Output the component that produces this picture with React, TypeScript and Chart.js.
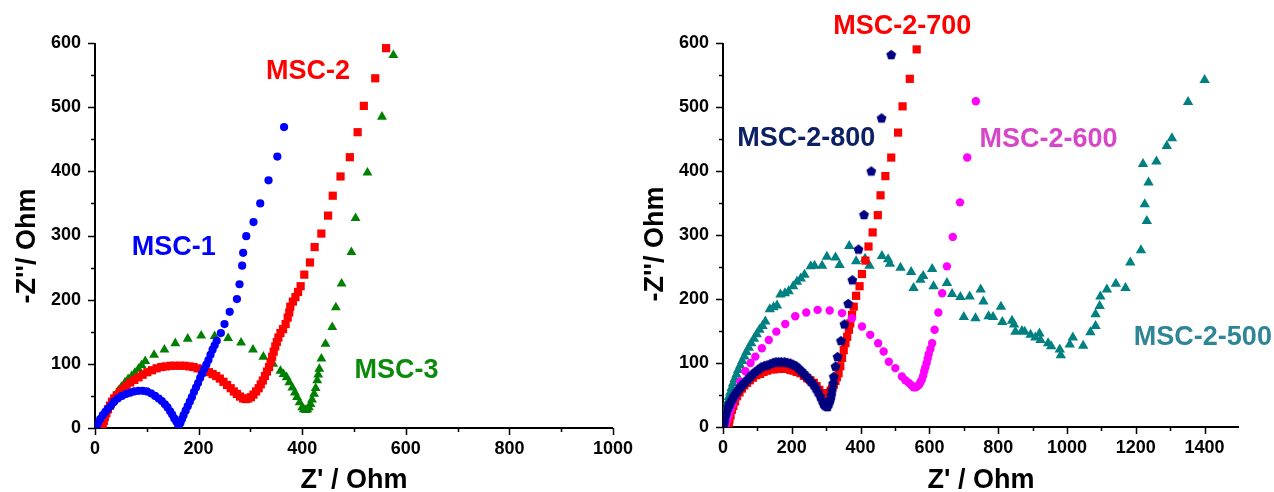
import { useEffect, useRef } from 'react';
import { Chart, registerables } from 'chart.js';

Chart.register(...registerables);

// ---------------- LEFT PANEL DATA ----------------
const MSC1_X = [3, 6, 10, 15, 20, 25, 31, 37, 44, 52, 60, 68, 76, 84, 92, 100, 108, 116, 123, 129, 135, 140, 145, 149, 153, 157, 160, 162, 165, 168, 171, 175, 179, 183, 187, 191, 195, 199, 203, 207, 211, 215, 219, 223, 227, 231, 235, 243, 250, 260, 274, 279, 284, 286, 292, 306, 319, 335, 352, 365];
const MSC1_Y = [3, 8, 14, 20, 25, 30, 35, 41, 46, 50, 53, 55, 57, 58, 58, 57, 54, 50, 46, 42, 37, 32, 26, 21, 15, 10, 6, 4, 8, 14, 20, 27, 34, 41, 48, 56, 63, 70, 78, 85, 92, 99, 106, 114, 122, 129, 136, 148, 162, 181, 201, 224, 253, 273, 299, 321, 350, 386, 423, 469];

const MSC2_X = [13, 15, 17, 19, 22, 25, 29, 33, 37, 42, 48, 54, 61, 68, 76, 84, 92, 101, 110, 119, 128, 137, 146, 155, 164, 173, 182, 190, 198, 206, 213, 220, 227, 234, 241, 248, 255, 262, 268, 274, 280, 286, 291, 296, 301, 306, 311, 316, 320, 324, 328, 332, 336, 339, 342, 345, 348, 351, 354, 358, 363, 368, 372, 375, 377, 382, 387, 392, 397, 404, 415, 424, 437, 450, 459, 474, 492, 507, 519, 541, 562];
const MSC2_Y = [0, 5, 11, 17, 23, 29, 35, 41, 46, 51, 56, 61, 66, 71, 75, 79, 83, 87, 90, 93, 95, 96, 97, 97, 97, 97, 96, 95, 93, 91, 89, 87, 84, 81, 77, 72, 67, 62, 57, 53, 49, 46, 45, 46, 48, 52, 57, 62, 68, 74, 81, 88, 95, 103, 111, 119, 127, 134, 141, 148, 154, 162, 172, 180, 189, 197, 204, 212, 221, 239, 258, 282, 303, 331, 362, 392, 422, 461, 502, 545, 592];

const MSC3_X = [5, 6, 8, 10, 13, 16, 19, 23, 27, 32, 38, 45, 51, 58, 64, 71, 77, 84, 90, 97, 114, 134, 155, 179, 205, 231, 257, 282, 305, 325, 344, 358, 364, 370, 375, 381, 386, 390, 395, 400, 403, 407, 410, 413, 416, 419, 423, 426, 429, 431, 433, 437, 445, 458, 465, 476, 495, 503, 526, 554, 576];
const MSC3_Y = [0, 3, 6, 10, 15, 19, 22, 28, 33, 40, 49, 58, 64, 71, 76, 81, 86, 92, 98, 104, 114, 122, 132, 139, 144, 143, 140, 133, 122, 111, 100, 89, 84, 79, 71, 63, 55, 48, 40, 32, 29, 28, 29, 32, 37, 44, 53, 62, 74, 83, 92, 108, 131, 157, 188, 225, 274, 327, 398, 485, 581];

// ---------------- RIGHT PANEL DATA ----------------
const M800_X = [2, 4, 7, 10, 14, 18, 21, 26, 31, 36, 41, 47, 53, 59, 65, 72, 79, 86, 94, 102, 111, 120, 128, 137, 146, 154, 162, 170, 179, 187, 196, 204, 212, 220, 228, 235, 242, 249, 256, 264, 270, 276, 283, 288, 292, 295, 299, 304, 308, 312, 315, 317, 320, 322, 327, 333, 343, 353, 364, 376, 394, 410, 431, 461, 489];
const M800_Y = [4, 9, 17, 23, 30, 35, 38, 43, 48, 52, 56, 60, 64, 68, 71, 75, 79, 83, 87, 90, 94, 96, 97, 99, 101, 102, 102, 102, 102, 101, 100, 98, 96, 92, 88, 84, 80, 76, 71, 66, 61, 55, 48, 42, 37, 35, 33, 32, 37, 43, 50, 58, 68, 79, 95, 110, 135, 161, 193, 230, 278, 332, 400, 483, 582];

const M700_X = [15, 17, 19, 22, 26, 30, 35, 41, 48, 55, 62, 70, 78, 87, 97, 108, 118, 128, 138, 148, 158, 168, 178, 187, 196, 205, 214, 225, 235, 245, 254, 264, 272, 280, 288, 295, 302, 308, 313, 317, 322, 327, 331, 336, 341, 346, 351, 356, 361, 366, 370, 375, 380, 387, 397, 404, 414, 423, 435, 450, 458, 472, 489, 509, 522, 543, 563];
const M700_Y = [0, 6, 12, 18, 27, 33, 40, 48, 54, 60, 65, 69, 73, 77, 81, 83, 86, 88, 90, 90, 91, 91, 91, 91, 89, 88, 86, 84, 80, 76, 73, 69, 64, 58, 53, 50, 50, 53, 57, 60, 66, 72, 78, 84, 95, 108, 120, 131, 141, 152, 162, 175, 188, 205, 220, 239, 260, 282, 304, 331, 362, 392, 421, 460, 501, 544, 590];

const M600_X = [8, 12, 17, 22, 28, 35, 43, 50, 65, 80, 94, 113, 133, 155, 181, 210, 242, 275, 310, 346, 375, 404, 428, 451, 467, 482, 501, 520, 530, 540, 548, 554, 560, 566, 570, 574, 578, 582, 585, 588, 592, 595, 598, 603, 608, 615, 626, 637, 651, 668, 689, 710, 735];
const M600_Y = [2, 10, 18, 27, 36, 46, 58, 71, 87, 100, 110, 123, 136, 149, 161, 173, 179, 183, 182, 178, 170, 157, 144, 131, 118, 102, 92, 79, 73, 69, 65, 62, 62, 64, 66, 70, 74, 80, 87, 93, 100, 107, 114, 122, 131, 152, 179, 209, 251, 297, 351, 421, 509];

const M500_X = [1, 3, 5, 8, 11, 14, 17, 21, 25, 29, 34, 39, 44, 50, 56, 62, 68, 75, 82, 90, 98, 106, 115, 123, 136, 147, 157, 167, 180, 191, 204, 215, 226, 237, 255, 266, 288, 302, 327, 339, 367, 387, 413, 426, 462, 480, 485, 516, 547, 554, 574, 582, 608, 612, 651, 666, 690, 700, 717, 734, 749, 757, 772, 785, 808, 812, 840, 846, 850, 869, 877, 894, 908, 920, 923, 945, 954, 979, 982, 1008, 1017, 1047, 1068, 1083, 1083, 1095, 1097, 1116, 1142, 1170, 1184, 1215, 1232, 1226, 1237, 1221, 1260, 1290, 1305, 1352, 1400];
const M500_Y = [5, 12, 19, 26, 33, 40, 47, 54, 61, 68, 75, 82, 89, 96, 103, 110, 117, 124, 131, 138, 145, 152, 158, 165, 184, 187, 190, 207, 209, 212, 220, 227, 232, 238, 251, 252, 252, 266, 265, 253, 283, 259, 263, 252, 267, 262, 255, 249, 242, 217, 230, 236, 247, 220, 225, 208, 203, 172, 204, 170, 215, 196, 173, 172, 188, 164, 166, 160, 149, 150, 149, 144, 140, 146, 136, 131, 126, 121, 112, 129, 140, 127, 148, 158, 176, 189, 204, 215, 224, 217, 257, 276, 322, 348, 382, 411, 415, 439, 451, 508, 542];

// ---------------- AXES ----------------
const Y_TICKS = [0, 100, 200, 300, 400, 500, 600];
const Y_MINOR = [50, 150, 250, 350, 450, 550];
const LEFT_X_TICKS = [0, 200, 400, 600, 800, 1000];
const LEFT_X_MINOR = [100, 300, 500, 700, 900];
const RIGHT_X_TICKS = [0, 200, 400, 600, 800, 1000, 1200, 1400];
const RIGHT_X_MINOR = [100, 300, 500, 700, 900, 1100, 1300];

const FONT = '"Liberation Sans", Arial, Helvetica, sans-serif';

const pts = (xs: number[], ys: number[]) => xs.map((x, i) => ({ x, y: ys[i] }));

function makePentagon(r: number, color: string) {
  const c = document.createElement('canvas');
  const s = Math.ceil(r * 2 + 2);
  c.width = s;
  c.height = s;
  const ctx = c.getContext('2d')!;
  ctx.fillStyle = color;
  ctx.beginPath();
  for (let i = 0; i < 5; i++) {
    const a = -Math.PI / 2 + (i * 2 * Math.PI) / 5;
    const px = s / 2 + r * Math.cos(a);
    const py = s / 2 + r * Math.sin(a) + 0.5;
    if (i === 0) ctx.moveTo(px, py);
    else ctx.lineTo(px, py);
  }
  ctx.closePath();
  ctx.fill();
  return c;
}

type Label = { text: string; x: number; y: number; color: string };

function makeDecor(cfg: {
  xMajor: number[]; xMinor: number[]; yMajor: number[]; yMinor: number[];
  labels: Label[]; yTitleX: number; yTitleY: number; xTitleY: number;
}) {
  return {
    id: 'decor',
    beforeDatasetsDraw(chart: any) {
      const { ctx, chartArea } = chart;
      const { left, right, top, bottom } = chartArea;
      const xs = chart.scales.x;
      const ys = chart.scales.y;
      ctx.save();
      ctx.strokeStyle = '#000';
      ctx.lineWidth = 2;
      ctx.beginPath();
      ctx.moveTo(left, top);
      ctx.lineTo(left, bottom);
      ctx.lineTo(right, bottom);
      ctx.stroke();
      ctx.lineWidth = 1.5;
      ctx.beginPath();
      const tick = (v: number, len: number, horiz: boolean) => {
        if (horiz) {
          const p = Math.round(xs.getPixelForValue(v)) + 0.5;
          ctx.moveTo(p, bottom);
          ctx.lineTo(p, bottom + len);
        } else {
          const p = Math.round(ys.getPixelForValue(v)) + 0.5;
          ctx.moveTo(left, p);
          ctx.lineTo(left - len, p);
        }
      };
      cfg.xMajor.forEach((v) => tick(v, 7, true));
      cfg.xMinor.forEach((v) => tick(v, 4, true));
      cfg.yMajor.forEach((v) => tick(v, 7, false));
      cfg.yMinor.forEach((v) => tick(v, 4, false));
      ctx.stroke();
      ctx.restore();
    },
    afterDraw(chart: any) {
      const { ctx, chartArea } = chart;
      const xs = chart.scales.x;
      const ys = chart.scales.y;
      ctx.save();
      ctx.fillStyle = '#000';
      ctx.font = `bold 27px ${FONT}`;
      ctx.textAlign = 'center';
      ctx.textBaseline = 'alphabetic';
      ctx.fillText("Z' / Ohm", (chartArea.left + chartArea.right) / 2, cfg.xTitleY);
      ctx.save();
      ctx.translate(cfg.yTitleX, cfg.yTitleY);
      ctx.rotate(-Math.PI / 2);
      ctx.fillText("-Z''/ Ohm", 0, 0);
      ctx.restore();
      ctx.textBaseline = 'middle';
      cfg.labels.forEach((l) => {
        ctx.fillStyle = l.color;
        ctx.fillText(l.text, xs.getPixelForValue(l.x), ys.getPixelForValue(l.y));
      });
      ctx.restore();
    },
  };
}

function scaleOpts(ticks: number[], max: number, axis: 'x' | 'y', size: number) {
  return {
    type: 'linear' as const,
    min: 0,
    max,
    grid: { display: false, drawTicks: false },
    border: { display: false },
    ticks: {
      color: '#000',
      font: { family: FONT, size: 18, weight: 'bold' as const },
      padding: axis === 'x' ? 10 : 14,
      maxRotation: 0,
      autoSkip: false,
      callback: (v: any) => String(v),
    },
    afterBuildTicks: (s: any) => {
      s.ticks = ticks.map((value) => ({ value }));
    },
    afterFit: (s: any) => {
      if (axis === 'x') {
        s.height = size;
        s.paddingLeft = 0;
        s.paddingRight = 0;
      } else {
        s.width = size;
        s.paddingTop = 0;
        s.paddingBottom = 0;
      }
    },
  };
}

const ds = (label: string, data: any[], color: string, pointStyle: any, r: number) => ({
  label,
  data,
  showLine: false,
  pointStyle,
  pointRadius: r,
  pointHoverRadius: r,
  backgroundColor: color,
  borderColor: color,
  borderWidth: 0,
});

function leftConfig(): any {
  return {
    type: 'scatter',
    data: {
      datasets: [
        ds('MSC-1', pts(MSC1_X, MSC1_Y), '#0000ff', 'circle', 4.1),
        ds('MSC-2', pts(MSC2_X, MSC2_Y), '#ff0000', 'rect', 5.8),
        ds('MSC-3', pts(MSC3_X, MSC3_Y), '#008000', 'triangle', 5.7),
      ],
    },
    options: {
      responsive: false,
      animation: false,
      devicePixelRatio: 1,
      layout: { padding: { left: 0, right: 27, top: 43, bottom: 0 } },
      plugins: { legend: { display: false }, tooltip: { enabled: false } },
      scales: {
        x: scaleOpts(LEFT_X_TICKS, 1000, 'x', 64),
        y: scaleOpts(Y_TICKS, 600, 'y', 95),
      },
    },
    plugins: [
      makeDecor({
        xMajor: LEFT_X_TICKS, xMinor: LEFT_X_MINOR, yMajor: Y_TICKS, yMinor: Y_MINOR,
        yTitleX: 35, yTitleY: 246, xTitleY: 488,
        labels: [
          { text: 'MSC-2', x: 411, y: 555, color: '#ff0000' },
          { text: 'MSC-1', x: 152, y: 281, color: '#0000ff' },
          { text: 'MSC-3', x: 582, y: 90, color: '#0b8a0b' },
        ],
      }),
    ],
  };
}

function rightConfig(): any {
  const pent = makePentagon(5.2, '#000080');
  return {
    type: 'scatter',
    data: {
      datasets: [
        ds('MSC-2-800', pts(M800_X, M800_Y), '#000080', pent, 5.2),
        ds('MSC-2-600', pts(M600_X, M600_Y), '#ff00ff', 'circle', 4.2),
        ds('MSC-2-700', pts(M700_X, M700_Y), '#ff0000', 'rect', 5.8),
        ds('MSC-2-500', pts(M500_X, M500_Y), '#008080', 'triangle', 6),
      ],
    },
    options: {
      responsive: false,
      animation: false,
      devicePixelRatio: 1,
      layout: { padding: { left: 0, right: 35, top: 43, bottom: 0 } },
      plugins: { legend: { display: false }, tooltip: { enabled: false } },
      scales: {
        x: scaleOpts(RIGHT_X_TICKS, 1500, 'x', 65),
        y: scaleOpts(Y_TICKS, 600, 'y', 83),
      },
    },
    plugins: [
      makeDecor({
        xMajor: RIGHT_X_TICKS, xMinor: RIGHT_X_MINOR, yMajor: Y_TICKS, yMinor: Y_MINOR,
        yTitleX: 23, yTitleY: 244, xTitleY: 488,
        labels: [
          { text: 'MSC-2-700', x: 521, y: 625, color: '#ff0000' },
          { text: 'MSC-2-800', x: 242, y: 450, color: '#0b2163' },
          { text: 'MSC-2-600', x: 946, y: 449, color: '#d646c8' },
          { text: 'MSC-2-500', x: 1395, y: 139, color: '#2e8596' },
        ],
      }),
    ],
  };
}

function Panel({ make, left, width }: { make: () => any; left: number; width: number }) {
  const ref = useRef<HTMLCanvasElement>(null);
  useEffect(() => {
    const chart = new Chart(ref.current!, make());
    return () => chart.destroy();
  }, [make]);
  return (
    <canvas
      ref={ref}
      width={width}
      height={492}
      style={{ position: 'absolute', left, top: 0, width, height: 492 }}
    />
  );
}

export default function App() {
  return (
    <div style={{ position: 'fixed', left: 0, top: 0, width: 1274, height: 492, background: '#fff' }}>
      <Panel make={leftConfig} left={0} width={640} />
      <Panel make={rightConfig} left={640} width={634} />
    </div>
  );
}
